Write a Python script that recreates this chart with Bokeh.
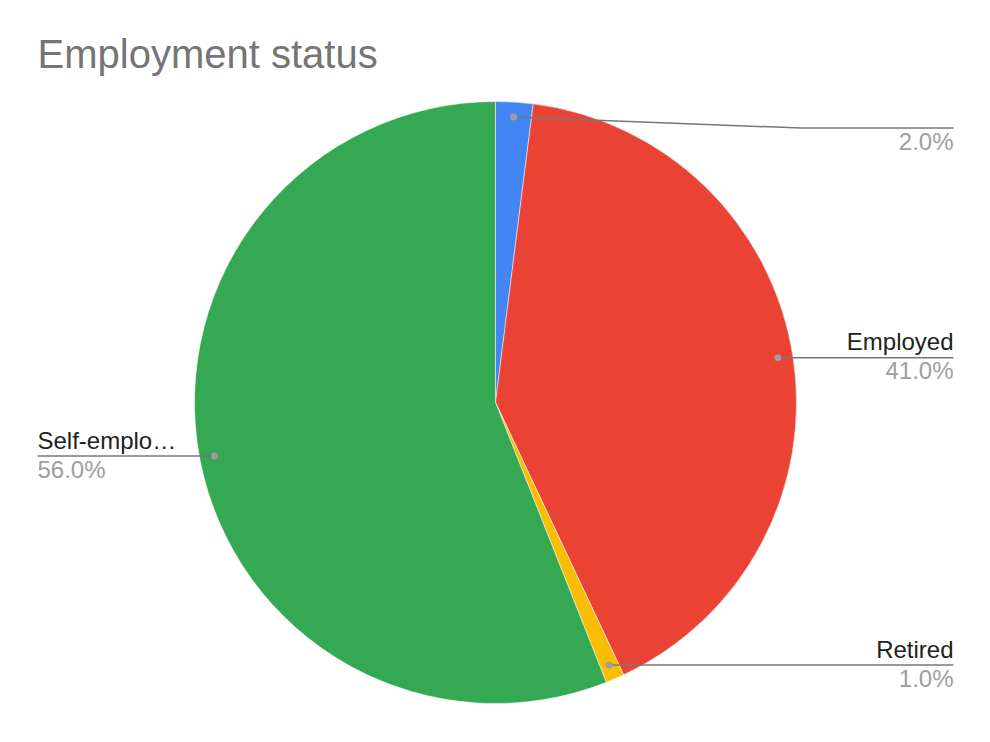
import math
from bokeh.plotting import figure
from bokeh.models import Range1d, ColumnDataSource
from bokeh.core.properties import value
from bokeh.embed import file_html
from bokeh.resources import INLINE

# ---- data ----
categories = ["", "Employed", "Retired", "Self-emplo\u2026"]
shares = [2.0, 41.0, 1.0, 56.0]
colors = ["#4285F4", "#EA4335", "#FBBC04", "#34A853"]
title_text = "Employment status"

# ---- layout ----
W, H = 974, 726
CX, CY, R = 495, 324, 301          # pie centre / radius (data units = px, y up)
DOT_R = 0.95 * R
RIGHT_X, LEFT_X = 953, 37          # label line ends
label_dy = {0: -11}                # shift of the label line for crowded labels
FONT = "Liberation Sans"
LABEL_PX = 24
TITLE_PX = 40
BASE_FIX = 0.37                    # svg alphabetic baseline correction (em)

p = figure(width=W, height=H, x_range=Range1d(0, W), y_range=Range1d(0, H),
           output_backend="svg", toolbar_location=None, min_border=0)
p.axis.visible = False
p.grid.visible = False
p.outline_line_color = None
p.background_fill_color = "white"
p.border_fill_color = "white"

total = sum(shares)
starts, ends, mids = [], [], []
cum = 0.0
for s in shares:
    a0 = math.pi / 2 - 2 * math.pi * cum / total
    cum += s
    a1 = math.pi / 2 - 2 * math.pi * cum / total
    starts.append(a0)
    ends.append(a1)
    mids.append((a0 + a1) / 2)

src = ColumnDataSource(dict(start=starts, end=ends, color=colors))
p.wedge(x=CX, y=CY, radius=R, start_angle="start", end_angle="end",
        direction="clock", fill_color="color", line_color="white", line_width=0.5,
        source=src)

fix = BASE_FIX * LABEL_PX
for i, (name, s, m) in enumerate(zip(categories, shares, mids)):
    dx = CX + DOT_R * math.cos(m)
    dy = CY + DOT_R * math.sin(m)
    ly = dy + label_dy.get(i, 0)
    right = math.cos(m) >= 0
    ex = RIGHT_X if right else LEFT_X
    if ly != dy:
        elbow_x = dx + (ex - dx) * 0.655
        xs, ys = [dx, elbow_x, ex], [dy, ly, ly]
    else:
        xs, ys = [dx, ex], [dy, ly]
    p.line(xs, ys, line_color="#777777", line_width=1.5)
    p.scatter([dx], [dy], size=7, fill_color="#9E9E9E", line_color=None)
    align = "right" if right else "left"
    if name:
        p.text([ex], [ly + 7 + fix], text=[name], text_font=value(FONT),
               text_font_size=f"{LABEL_PX}px", text_color="#222222",
               text_align=align, text_baseline="alphabetic")
    p.text([ex], [ly - 22 + fix], text=["%.1f%%" % s], text_font=value(FONT),
           text_font_size=f"{LABEL_PX}px", text_color="#9E9E9E",
           text_align=align, text_baseline="alphabetic")

p.text([37], [H - 68 + BASE_FIX * TITLE_PX], text=[title_text],
       text_font=value(FONT), text_font_size=f"{TITLE_PX}px",
       text_color="#757575", text_align="left", text_baseline="alphabetic")

open("out.html", "w").write(file_html(p, INLINE))
